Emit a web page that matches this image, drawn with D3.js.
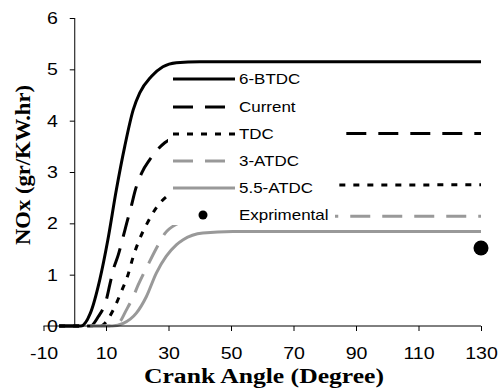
<!DOCTYPE html>
<html>
<head>
<meta charset="utf-8">
<script src="https://cdn.jsdelivr.net/npm/d3@7"></script>
<style>
  body { margin: 0; background: #fff; }
  svg { display: block; }
</style>
</head>
<body>
<div id="chart"></div>
<script>
// values
const xTicks = [-10, 10, 30, 50, 70, 90, 110, 130];
const yTicks = [0, 1, 2, 3, 4, 5, 6];

const btdc6X = [-5, 2, 5, 8, 10.6, 13.3, 16, 18.7, 20.8, 24.5, 28.2, 32.5, 40, 130];
const btdc6Y = [0, 0, 0.25, 0.9, 1.68, 2.65, 3.5, 4.21, 4.54, 4.86, 5.05, 5.13, 5.15, 5.15];

const currentX = [-5, 5, 7.5, 10.1, 11.2, 12.3, 13.9, 15.5, 16.6, 18.2, 19.2, 21.4, 24, 28.8, 35, 45, 130];
const currentY = [0, 0, 0.18, 0.51, 0.8, 1.09, 1.38, 1.74, 2.0, 2.36, 2.61, 2.98, 3.24, 3.57, 3.72, 3.75, 3.75];

const tdcX = [-5, 8, 9, 12.3, 14.9, 17, 18.7, 20.8, 23, 26.4, 32, 40, 130];
const tdcY = [0, 0, 0.02, 0.31, 0.67, 0.99, 1.35, 1.7, 1.98, 2.33, 2.62, 2.74, 2.75];

const atdc3X = [5, 12, 14.4, 16.5, 18.7, 20.3, 23.5, 26, 28.8, 33, 38, 50, 130];
const atdc3Y = [0, 0, 0.08, 0.31, 0.57, 0.8, 1.2, 1.5, 1.8, 2.0, 2.1, 2.14, 2.14];

const atdc55X = [5, 12, 15.5, 19.7, 22.9, 26.1, 29.3, 32.5, 34.7, 41, 50.6, 130];
const atdc55Y = [0, 0, 0.05, 0.25, 0.57, 1.03, 1.36, 1.58, 1.68, 1.81, 1.84, 1.84];

const exprX = [130];
const exprY = [1.52];

const series = [
  { name: "6-BTDC", xs: btdc6X, ys: btdc6Y, color: "#000", dash: null, w: 3 },
  { name: "Current", xs: currentX, ys: currentY, color: "#000", dash: "20,12", w: 3 },
  { name: "TDC", xs: tdcX, ys: tdcY, color: "#000", dash: "6,8", w: 3 },
  { name: "3-ATDC", xs: atdc3X, ys: atdc3Y, color: "#999", dash: "20,12", w: 3 },
  { name: "5.5-ATDC", xs: atdc55X, ys: atdc55Y, color: "#999", dash: null, w: 3 }
];

const width = 501, height = 392;
const sansFont = "Arial, 'Liberation Sans', sans-serif";
const serifFont = "'Times New Roman', 'Liberation Serif', serif";

// the source text is drawn a bit wider than the font, so stretch it
function stretch(sel, k) {
  sel.each(function () {
    const len = this.getComputedTextLength();
    d3.select(this)
      .attr("textLength", len * k)
      .attr("lengthAdjust", "spacingAndGlyphs");
  });
}

const svg = d3.select("#chart")
  .append("svg")
  .attr("width", width)
  .attr("height", height);

const x = d3.scaleLinear().domain([-10, 130]).range([43.5, 481]);
const y = d3.scaleLinear().domain([0, 6]).range([326, 18]);

// lines
const line = d3.line()
  .x(d => x(d[0]))
  .y(d => y(d[1]))
  .curve(d3.curveMonotoneX);

series.forEach(s => {
  svg.append("path")
    .datum(s.xs.map((v, i) => [v, s.ys[i]]))
    .attr("fill", "none")
    .attr("stroke", s.color)
    .attr("stroke-width", s.w)
    .attr("stroke-dasharray", s.dash)
    .attr("d", line);
});

// experimental point
svg.selectAll("circle.expr")
  .data(exprX.map((v, i) => [v, exprY[i]]))
  .enter()
  .append("circle")
  .attr("class", "expr")
  .attr("cx", d => x(d[0]))
  .attr("cy", d => y(d[1]))
  .attr("r", 7.5)
  .attr("fill", "#000");

// axes
const xAxis = svg.append("g")
  .attr("transform", "translate(0," + y(0) + ")")
  .call(d3.axisBottom(x).tickValues(xTicks).tickSize(5).tickPadding(16).tickFormat(d => String(d)));

const yAxis = svg.append("g")
  .attr("transform", "translate(" + x(0) + ",0)")
  .call(d3.axisLeft(y).tickValues(yTicks).tickSize(5).tickPadding(12).tickFormat(d => String(d)));

[xAxis, yAxis].forEach(g => {
  g.select(".domain").attr("stroke", "#000").attr("stroke-width", 1);
  g.selectAll(".tick line").attr("stroke", "#000");
  g.selectAll(".tick text")
    .attr("fill", "#000")
    .style("font-family", sansFont)
    .style("font-size", "17px")
    .call(stretch, 1.15);
});
xAxis.select(".domain").attr("d", "M" + x(-10) + ",0H" + x(130));
yAxis.select(".domain").attr("d", "M0," + y(0) + "V" + y(6));

// legend (white box on top of the plot, as in the source)
const legend = svg.append("g");
legend.append("rect")
  .attr("x", 168).attr("y", 68)
  .attr("width", 167).attr("height", 157)
  .attr("fill", "#fff");

const rowY = [79, 107, 134, 161, 188, 215];
series.forEach((s, i) => {
  legend.append("line")
    .attr("x1", 173).attr("x2", 235)
    .attr("y1", rowY[i]).attr("y2", rowY[i])
    .attr("stroke", s.color)
    .attr("stroke-width", s.w)
    .attr("stroke-dasharray", s.dash);
  legend.append("text")
    .attr("x", 239).attr("y", rowY[i])
    .attr("dy", "0.35em")
    .style("font-family", sansFont)
    .style("font-size", "15px")
    .text(s.name)
    .call(stretch, 1.13);
});
legend.append("circle")
  .attr("cx", 203).attr("cy", rowY[5]).attr("r", 4.5).attr("fill", "#000");
legend.append("text")
  .attr("x", 239).attr("y", rowY[5])
  .attr("dy", "0.35em")
  .style("font-family", sansFont)
  .style("font-size", "15px")
  .text("Exprimental")
  .call(stretch, 1.13);

// axis titles
svg.append("text")
  .attr("x", 264).attr("y", 383)
  .attr("text-anchor", "middle")
  .style("font-family", serifFont)
  .style("font-weight", "bold")
  .style("font-size", "20px")
  .text("Crank Angle (Degree)")
  .attr("textLength", 240)
  .attr("lengthAdjust", "spacingAndGlyphs");

svg.append("text")
  .attr("transform", "translate(30,165)rotate(-90)")
  .attr("text-anchor", "middle")
  .style("font-family", serifFont)
  .style("font-weight", "bold")
  .style("font-size", "21px")
  .text("NOx (gr/KW.hr)")
  .attr("textLength", 160)
  .attr("lengthAdjust", "spacingAndGlyphs");
</script>
</body>
</html>
